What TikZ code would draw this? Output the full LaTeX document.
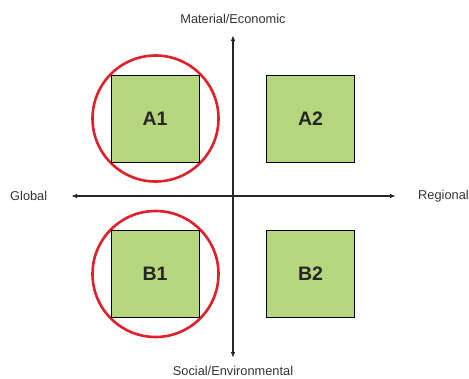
\documentclass[tikz,border=0pt]{standalone}
\usepackage{fontspec}
\setmainfont{Liberation Sans}
\usetikzlibrary{arrows.meta}
\definecolor{boxgreen}{HTML}{B5D67D}
\definecolor{ringred}{HTML}{E0202A}
\definecolor{txt}{HTML}{333333}
\begin{document}
\begin{tikzpicture}[x=1pt,y=-1pt,
  quad/.style={draw=black,line width=0.8pt,fill=boxgreen,minimum width=88pt,minimum height=87pt,inner sep=0pt,font=\fontsize{19.5}{20}\selectfont\bfseries,text=black!85},
  ring/.style={draw=ringred,line width=2.6pt,circle,minimum size=126pt,inner sep=0pt},
  axislbl/.style={font=\fontsize{12.8}{14}\selectfont,text=txt,inner sep=0pt},
  axis/.style={line width=1.3pt,black!85,-{Latex[length=6pt,width=4.5pt]}}]
\useasboundingbox (0,0) rectangle (469,378);
\node[ring] (c1) at (155.5,118.5) {};
\node[ring] (c2) at (155.5,274) {};
\node[quad] (A1) at (155,118.5) {A1};
\node[quad] (A2) at (310.5,118.5) {A2};
\node[quad] (B1) at (155,274) {B1};
\node[quad] (B2) at (310.5,274) {B2};
\coordinate (o) at (233,196);
\coordinate (top) at (233,35);
\coordinate (bot) at (233,358);
\coordinate (lft) at (71,196);
\coordinate (rgt) at (396,196);
\draw[axis] (o) -- (top);
\draw[axis] (o) -- (bot);
\draw[axis] (o) -- (lft);
\draw[axis] (o) -- (rgt);
\node[axislbl] (mat) at (233,19) {Material/Economic};
\node[axislbl,anchor=base] (soc) at (233,375) {Social/Environmental};
\node[axislbl,anchor=west] (glo) at (10,196) {Global};
\node[axislbl,anchor=west] (reg) at (418,196) {Regional};
\end{tikzpicture}
\end{document}
